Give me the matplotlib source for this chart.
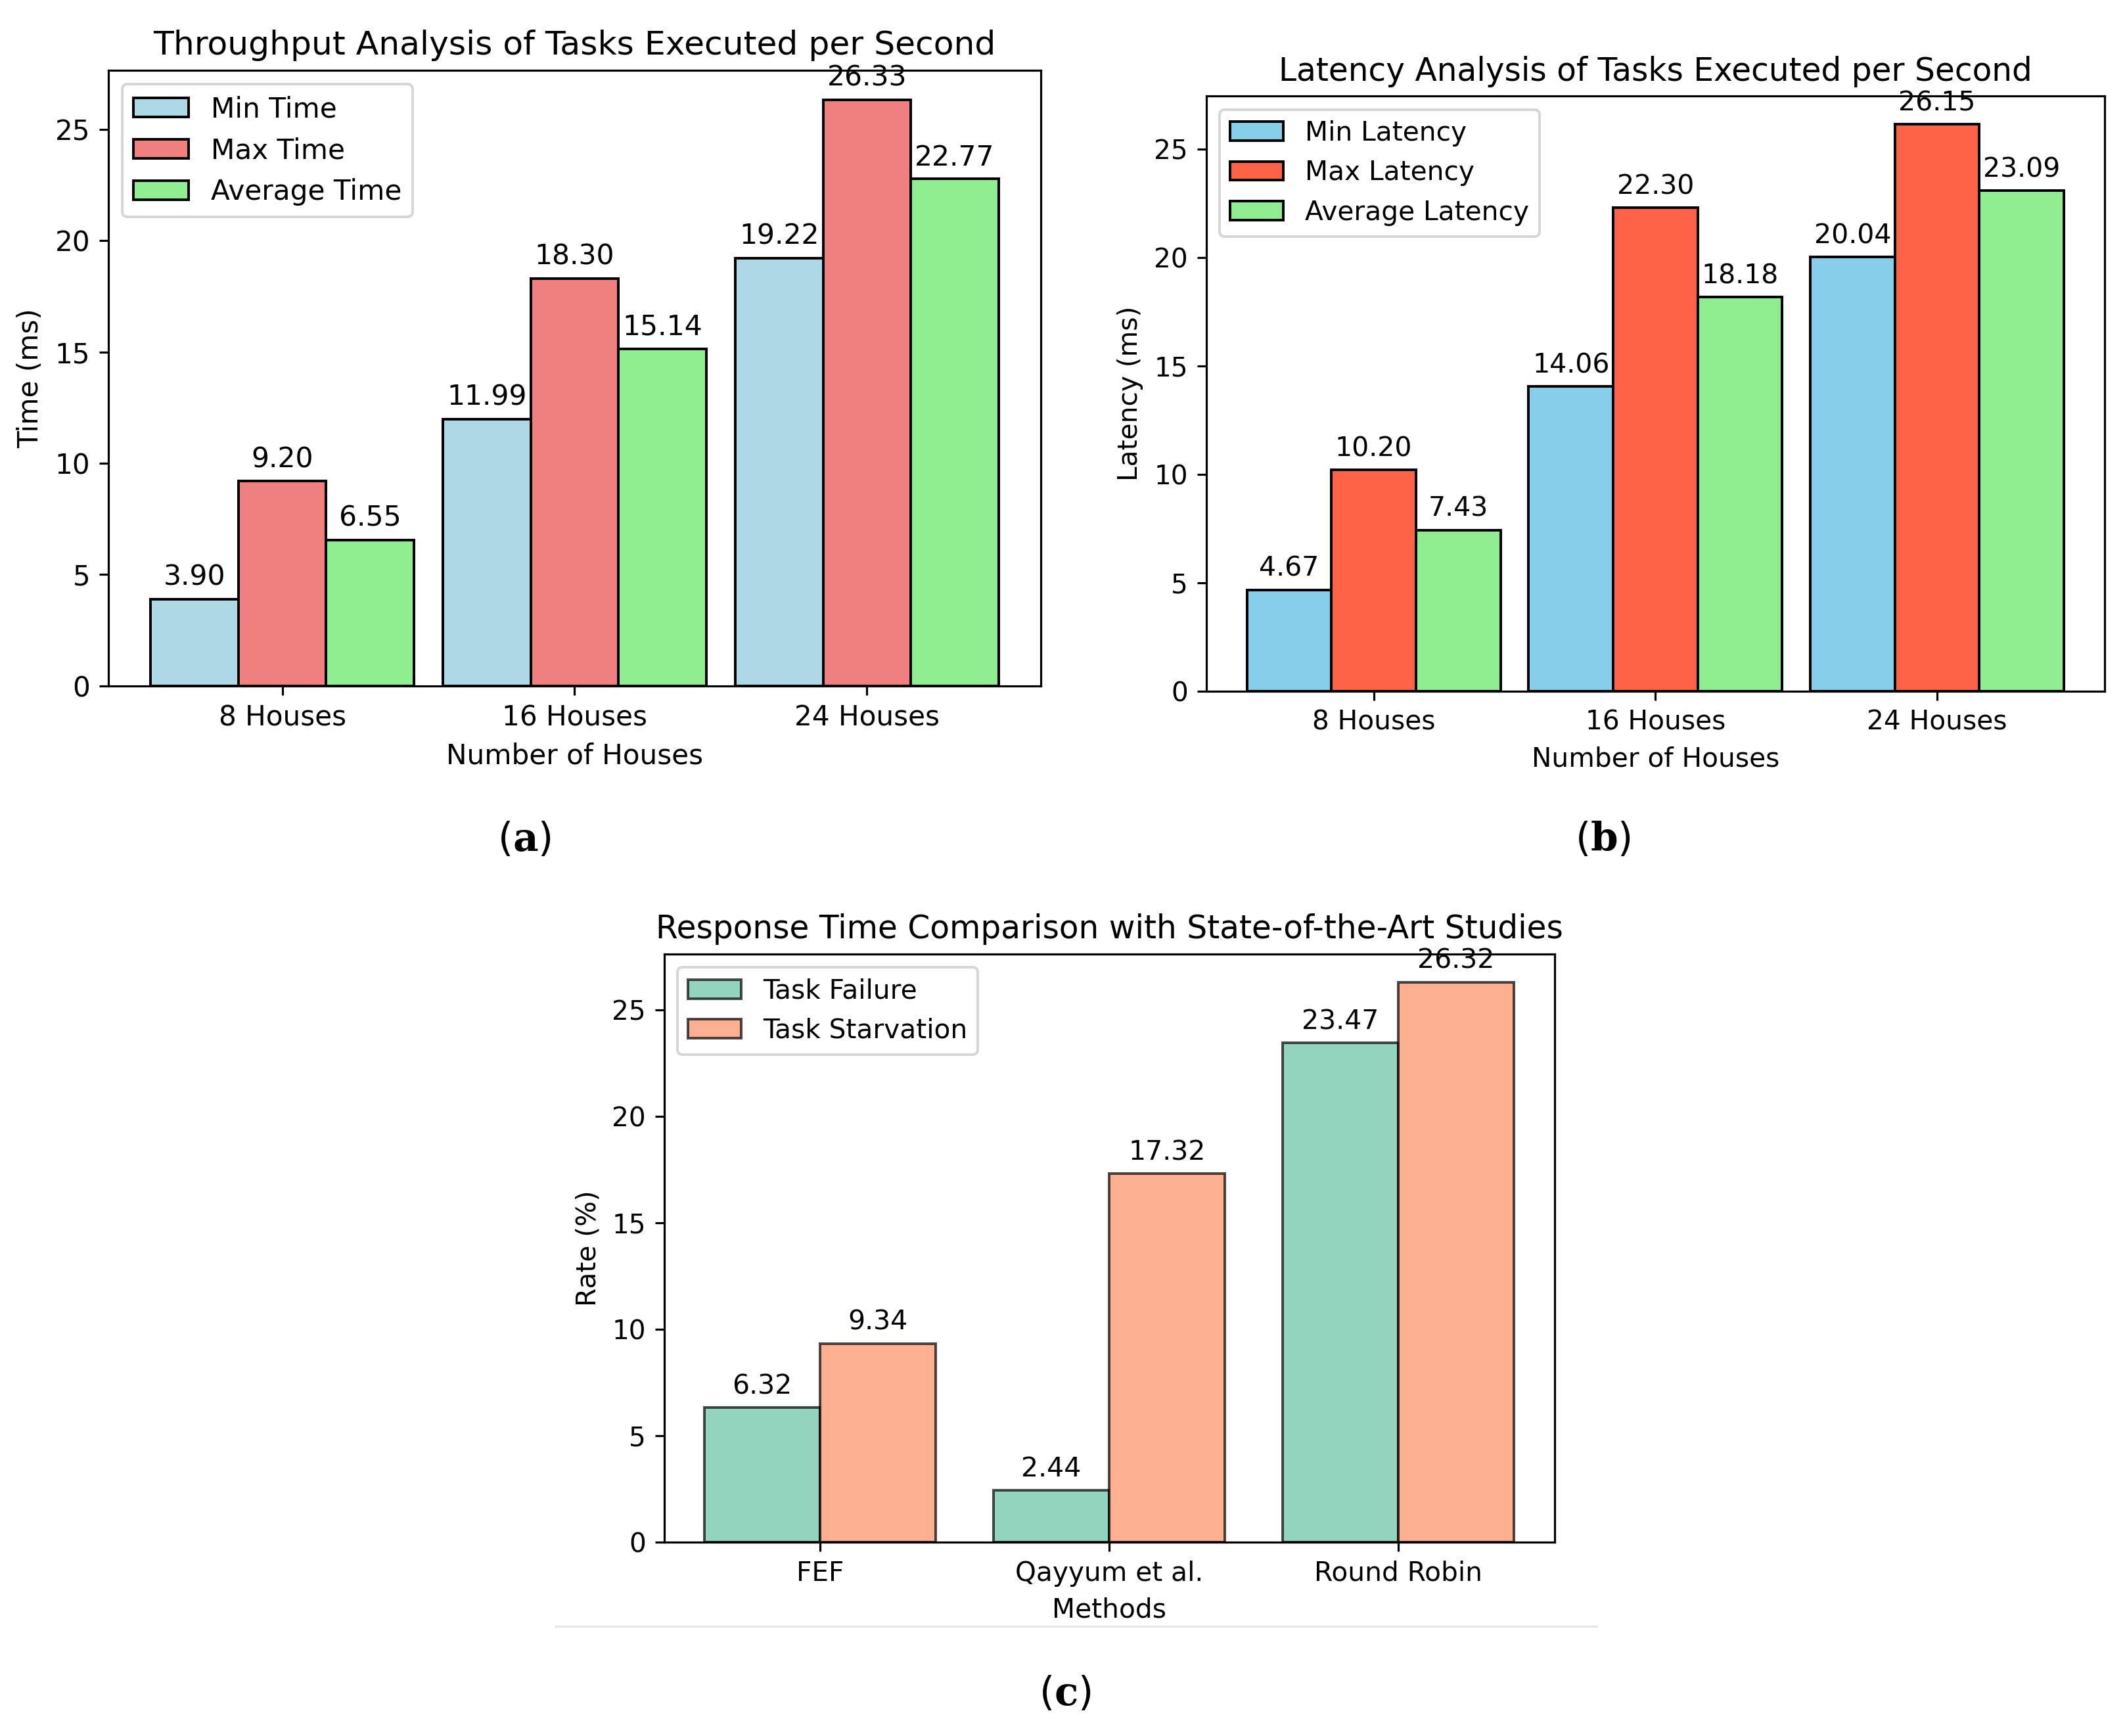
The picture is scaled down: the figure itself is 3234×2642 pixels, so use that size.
import numpy as np
import matplotlib
matplotlib.use('Agg')
import matplotlib.pyplot as plt
from matplotlib.lines import Line2D

# (a) throughput
houses = ['8 Houses', '16 Houses', '24 Houses']
min_time = [3.90, 11.99, 19.22]
max_time = [9.20, 18.30, 26.33]
avg_time = [6.55, 15.14, 22.77]

# (b) latency
min_latency = [4.67, 14.06, 20.04]
max_latency = [10.20, 22.30, 26.15]
avg_latency = [7.43, 18.18, 23.09]

# (c) comparison
methods = ['FEF', 'Qayyum et al.', 'Round Robin']
task_failure = [6.32, 2.44, 23.47]
task_starvation = [9.34, 17.32, 26.32]

DPI = 286
plt.rcParams['mathtext.fontset'] = 'dejavuserif'
fig = plt.figure(figsize=(3234 / DPI, 2642 / DPI), dpi=DPI)


def grouped(ax, series, labels, colors, width, title, xlabel, ylabel, cats,
            edge='black', alpha=1.0, scale=1.0):
    fs = 10.6 * scale
    x = np.arange(len(cats))
    n = len(series)
    for i, (vals, lab, col) in enumerate(zip(series, labels, colors)):
        off = (i - (n - 1) / 2) * width
        bars = ax.bar(x + off, vals, width, label=lab, color=col,
                      edgecolor=edge, alpha=alpha)
        ax.bar_label(bars, fmt='%.2f', padding=3, fontsize=10.7 * scale)
    ax.set_xticks(x)
    ax.set_xticklabels(cats)
    ax.tick_params(labelsize=fs)
    ax.set_title(title, fontsize=12.7 * scale)
    ax.set_xlabel(xlabel, fontsize=fs)
    ax.set_ylabel(ylabel, fontsize=fs)
    ax.legend(loc='upper left', fontsize=fs)


ax1 = fig.add_axes([0.0510, 0.6050, 0.4388, 0.3544])
grouped(ax1, [min_time, max_time, avg_time],
        ['Min Time', 'Max Time', 'Average Time'],
        ['lightblue', 'lightcoral', 'lightgreen'], 0.3,
        'Throughput Analysis of Tasks Executed per Second',
        'Number of Houses', 'Time (ms)', houses)

ax2 = fig.add_axes([0.5676, 0.6019, 0.4228, 0.3427])
grouped(ax2, [min_latency, max_latency, avg_latency],
        ['Min Latency', 'Max Latency', 'Average Latency'],
        ['skyblue', 'tomato', 'lightgreen'], 0.3,
        'Latency Analysis of Tasks Executed per Second',
        'Number of Houses', 'Latency (ms)', houses, scale=0.965)

ax3 = fig.add_axes([0.3125, 0.1116, 0.4190, 0.3388])
grouped(ax3, [task_failure, task_starvation],
        ['Task Failure', 'Task Starvation'],
        ['#66c2a5', '#fc8d62'], 0.4,
        'Response Time Comparison with State-of-the-Art Studies',
        'Methods', 'Rate (%)', methods, alpha=0.7, scale=0.965)

# thin grey rule under panel (c)
fig.add_artist(Line2D([410 / 1568, 1178 / 1568], [1 - 1200 / 1281] * 2,
                      color='#e6e6e6', lw=0.8))

for lab, xx, yy in [('a', 387, 620), ('b', 1183, 620), ('c', 786, 1250)]:
    fig.text(xx / 1568, 1 - yy / 1281, '($\\mathbf{%s}$)' % lab,
             ha='center', va='center', fontsize=15)

fig.savefig('out.png', dpi=DPI)
